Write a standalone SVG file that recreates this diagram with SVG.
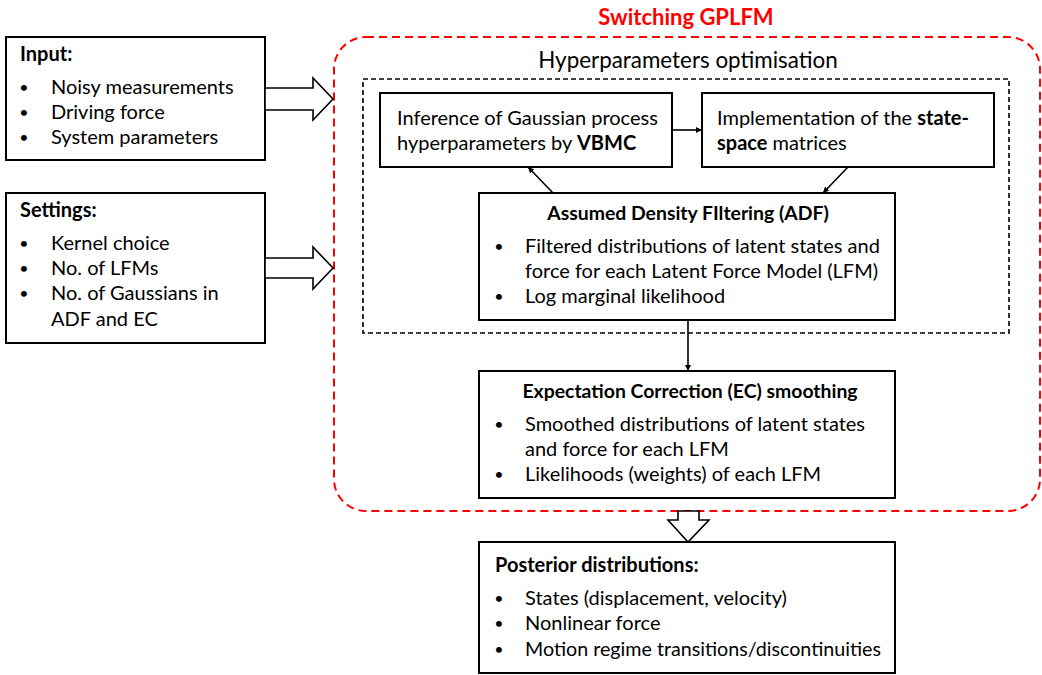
<svg xmlns="http://www.w3.org/2000/svg" width="1042" height="675" viewBox="0 0 1042 675">
  <style>
    text { font-family: Lato, "Liberation Sans", sans-serif; fill: #000; }
    .t { font-size: 20px; }
    .b { font-weight: bold; }
    .h { font-size: 19.4px; font-weight: bold; }
    .dot { font-size: 16px; text-anchor: middle; }
    .box { fill: #fff; stroke: #000; stroke-width: 2; }
    .block { fill: #fff; stroke: #000; stroke-width: 1.6; stroke-linejoin: miter; }
    .line { stroke: #000; stroke-width: 1.6; fill: none; }
    .title { font-size: 22px; font-weight: bold; fill: #ff0000; }
    .sub { font-size: 22.4px; }
  </style>
  <defs>
    <marker id="ah" viewBox="0 0 10 10" refX="10" refY="5" markerWidth="6" markerHeight="6" markerUnits="userSpaceOnUse" orient="auto">
      <path d="M0,0 L10,5 L0,10 z" fill="#000"/>
    </marker>
  </defs>
  <rect width="1042" height="675" fill="#fff"/>

  <!-- Switching GPLFM container -->
  <g id="switching-gplfm">
    <rect x="334" y="37" width="706" height="474" rx="32" ry="32" fill="none" stroke="#ff0000" stroke-width="2" stroke-dasharray="8 5"/>
    <text class="title" x="686" y="25" text-anchor="middle">Switching GPLFM</text>
  </g>

  <!-- Hyperparameter optimisation loop -->
  <g id="hyperparameters">
    <rect x="363" y="79" width="646" height="254" fill="none" stroke="#000" stroke-width="1.6" stroke-dasharray="5 3"/>
    <text class="sub" x="688" y="68" text-anchor="middle">Hyperparameters optimisation</text>
  </g>

  <!-- Input -->
  <g id="input">
    <rect class="box" x="6" y="37" width="259" height="123"/>
    <text class="t b" x="20" y="61">Input:</text>
    <text class="t dot" x="24" y="93">•</text>
    <text class="t" x="51" y="94">Noisy measurements</text>
    <text class="t dot" x="24" y="118">•</text>
    <text class="t" x="51" y="119">Driving force</text>
    <text class="t dot" x="24" y="143">•</text>
    <text class="t" x="51" y="144">System parameters</text>
  </g>

  <!-- Settings -->
  <g id="settings">
    <rect class="box" x="6" y="193" width="259" height="150"/>
    <text class="t b" x="20" y="217">Settings:</text>
    <text class="t dot" x="24" y="249">•</text>
    <text class="t" x="51" y="250">Kernel choice</text>
    <text class="t dot" x="24" y="274">•</text>
    <text class="t" x="51" y="275">No. of LFMs</text>
    <text class="t dot" x="24" y="299">•</text>
    <text class="t" x="51" y="300">No. of Gaussians in</text>
    <text class="t" x="51" y="326">ADF and EC</text>
  </g>

  <!-- VBMC inference -->
  <g id="vbmc">
    <rect class="box" x="380" y="93" width="292" height="74"/>
    <text class="t" x="397" y="125">Inference of Gaussian process</text>
    <text class="t" x="397" y="150">hyperparameters by <tspan class="b">VBMC</tspan></text>
  </g>

  <!-- State-space matrices -->
  <g id="state-space">
    <rect class="box" x="702" y="93" width="292" height="74"/>
    <text class="t" x="717" y="125">Implementation of the <tspan class="b">state-</tspan></text>
    <text class="t" x="717" y="150"><tspan class="b">space</tspan> matrices</text>
  </g>

  <!-- ADF -->
  <g id="adf">
    <rect class="box" x="479" y="193" width="416" height="127"/>
    <text class="h" x="688" y="220" text-anchor="middle">Assumed Density FIltering (ADF)</text>
    <text class="t dot" x="499" y="252">•</text>
    <text class="t" x="525" y="253">Filtered distributions of latent states and</text>
    <text class="t" x="525" y="278">force for each Latent Force Model (LFM)</text>
    <text class="t dot" x="499" y="302">•</text>
    <text class="t" x="525" y="303">Log marginal likelihood</text>
  </g>

  <!-- EC smoothing -->
  <g id="ec">
    <rect class="box" x="479" y="371" width="416" height="127"/>
    <text class="h" x="690" y="398" text-anchor="middle" font-size="19">Expectation Correction (EC) smoothing</text>
    <text class="t dot" x="499" y="430">•</text>
    <text class="t" x="525" y="431">Smoothed distributions of latent states</text>
    <text class="t" x="525" y="456">and force for each LFM</text>
    <text class="t dot" x="499" y="480">•</text>
    <text class="t" x="525" y="481">Likelihoods (weights) of each LFM</text>
  </g>

  <!-- Posterior -->
  <g id="posterior">
    <rect class="box" x="479" y="542" width="416" height="131"/>
    <text class="t b" x="495" y="572">Posterior distributions:</text>
    <text class="t dot" x="499" y="604">•</text>
    <text class="t" x="525" y="605">States (displacement, velocity)</text>
    <text class="t dot" x="499" y="629">•</text>
    <text class="t" x="525" y="630">Nonlinear force</text>
    <text class="t dot" x="499" y="655">•</text>
    <text class="t" x="525" y="656" textLength="356" lengthAdjust="spacingAndGlyphs">Motion regime transitions/discontinuities</text>
  </g>

  <!-- Connectors -->
  <g id="connectors">
    <polygon class="block" points="265,88 313,88 313,78 333,99 313,120 313,110 265,110"/>
    <polygon class="block" points="265,258 313,258 313,247 333,268 313,289 313,278 265,278"/>
    <polygon class="block" points="678,511 699,511 699,520 709,520 688,542 668,520 678,520"/>
    <line class="line" x1="672" y1="130" x2="702" y2="130" marker-end="url(#ah)"/>
    <line class="line" x1="553" y1="193" x2="528" y2="167" marker-end="url(#ah)"/>
    <line class="line" x1="848" y1="167" x2="823" y2="193" marker-end="url(#ah)"/>
    <line class="line" x1="688" y1="320" x2="688" y2="371" marker-end="url(#ah)"/>
  </g>
</svg>
